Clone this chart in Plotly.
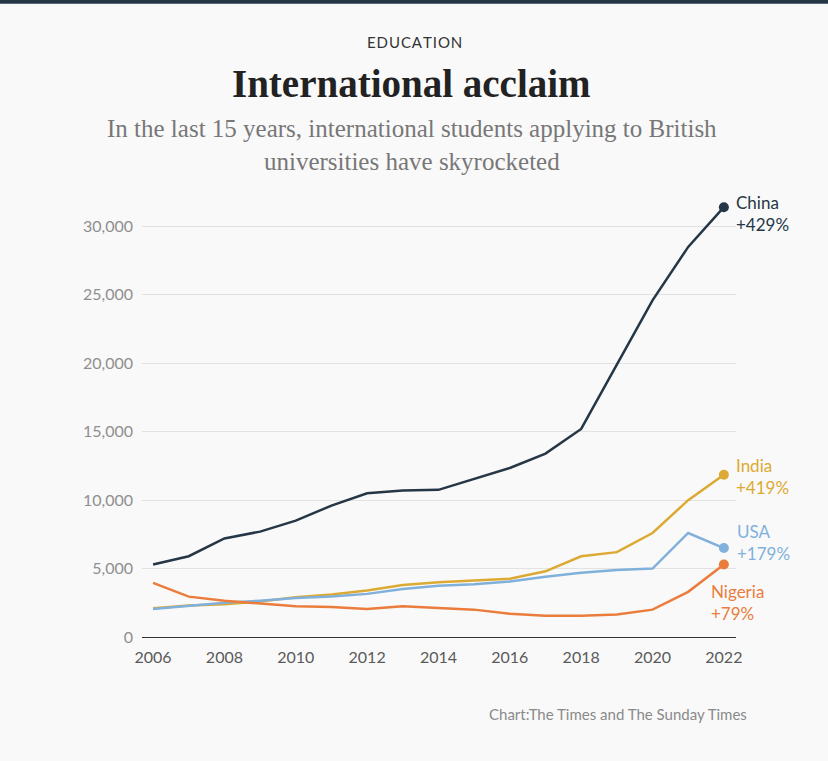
import plotly.graph_objects as go

years = list(range(2006, 2023))

china = [5300, 5900, 7200, 7700, 8500, 9600, 10500, 10700, 10750, 11550,
         12350, 13400, 15200, 19900, 24600, 28500, 31400]
india = [2100, 2300, 2400, 2600, 2900, 3100, 3400, 3800, 4000, 4150,
         4250, 4800, 5900, 6200, 7600, 10000, 11850]
usa = [2050, 2300, 2500, 2650, 2850, 2950, 3150, 3500, 3750, 3850,
       4050, 4400, 4700, 4900, 5000, 7600, 6500]
nigeria = [3950, 2950, 2650, 2450, 2250, 2200, 2050, 2250, 2150, 2000,
           1700, 1550, 1550, 1650, 2000, 3300, 5300]

countries = ["China", "India", "USA", "Nigeria"]
changes = ["+429%", "+419%", "+179%", "+79%"]
colours = ["#253746", "#dcaa32", "#80b1dc", "#ea7d3c"]
series = [china, india, usa, nigeria]

y_ticks = [0, 5000, 10000, 15000, 20000, 25000, 30000]
y_labels = ["0", "5,000", "10,000", "15,000", "20,000", "25,000", "30,000"]
x_ticks = [2006, 2008, 2010, 2012, 2014, 2016, 2018, 2020, 2022]

fig = go.Figure()

for name, vals, col in zip(countries, series, colours):
    fig.add_trace(go.Scatter(x=years, y=vals, name=name, mode="lines",
                             line=dict(color=col, width=2.5)))
    fig.add_trace(go.Scatter(x=[years[-1]], y=[vals[-1]], mode="markers",
                             marker=dict(color=col, size=10), showlegend=False))

# end labels: (xshift, yshift, anchor)
label_pos = {"China": (10, -6, "left"), "India": (10, -2, "left"),
             "USA": (11, 6, "left"), "Nigeria": (42, -38, "right")}
for name, chg, vals, col in zip(countries, changes, series, colours):
    xs, ys, anchor = label_pos[name]
    fig.add_annotation(x=years[-1], y=vals[-1], xref="x", yref="y",
                       text=name + "<br>" + chg, showarrow=False,
                       xanchor=anchor, yanchor="middle", align="left",
                       xshift=xs, yshift=ys,
                       font=dict(family="Lato", size=17, color=col))

# headings
fig.add_annotation(x=0.458, y=1.3595, xref="paper", yref="paper",
                   xanchor="center", yanchor="middle",
                   text="\u200a".join("EDUCATION"), showarrow=False,
                   font=dict(family="Lato", size=15, color="#333333"))
fig.add_annotation(x=0.453, y=1.2637, xref="paper", yref="paper",
                   xanchor="center", yanchor="middle",
                   text="<b>International acclaim</b>", showarrow=False,
                   font=dict(family="Liberation Serif", size=39, color="#222222"))
fig.add_annotation(x=0.455, y=1.1223, xref="paper", yref="paper",
                   xanchor="center", yanchor="middle",
                   text="In the last 15 years, international students applying to British<br>universities have skyrocketed",
                   showarrow=False,
                   font=dict(family="Liberation Serif", size=25, color="#777777"))
fig.add_annotation(x=0.581, y=-0.1756, xref="paper", yref="paper",
                   xanchor="left", yanchor="middle",
                   text="Chart:The Times and The Sunday Times", showarrow=False,
                   font=dict(family="Lato", size=15, color="#8a8a8a"))

# top border
fig.add_shape(type="line", xref="paper", yref="paper",
              x0=-0.25, x1=1.2, y0=1.4505, y1=1.4505,
              line=dict(color="#253746", width=4))

fig.update_layout(
    width=828, height=761,
    margin=dict(l=142, r=92, t=199, b=124),
    paper_bgcolor="#f9f9f9", plot_bgcolor="#f9f9f9",
    showlegend=False,
    xaxis=dict(range=[2005.69, 2022.34], tickvals=x_ticks, showgrid=False,
               showline=True, linecolor="#333333", linewidth=1, ticks="",
               zeroline=False, fixedrange=True, ticklabelstandoff=6,
               tickfont=dict(family="Lato", size=16, color="#5a5a5a")),
    yaxis=dict(range=[0, 32000], tickvals=y_ticks, ticktext=y_labels,
               showgrid=True, gridcolor="#e2e2e2", gridwidth=1,
               zeroline=False, showline=False, ticks="", fixedrange=True,
               ticklabelstandoff=8,
               tickfont=dict(family="Lato", size=16, color="#8f8f8f")),
)

fig.write_html("out.html", config={"displayModeBar": False},
               post_script="document.body.style.margin='0';"
                           "document.body.style.background='#f9f9f9';")
